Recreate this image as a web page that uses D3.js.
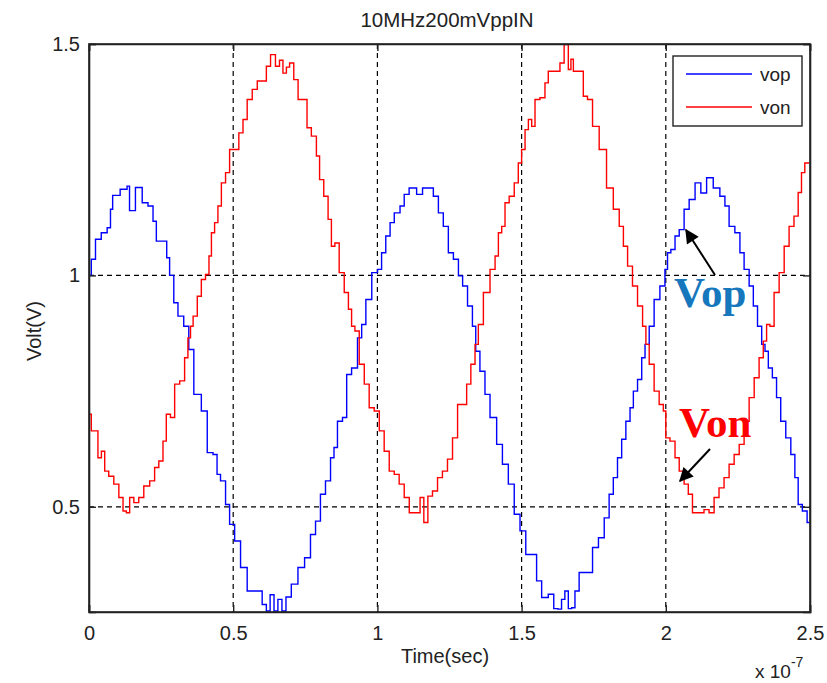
<!DOCTYPE html>
<html>
<head>
<meta charset="utf-8">
<script src="https://cdn.jsdelivr.net/npm/d3@7"></script>
<style>
  html, body { margin: 0; padding: 0; background: #fff; }
  svg { display: block; }
</style>
</head>
<body>
<svg id="chart" width="827" height="683"></svg>
<script>
// Time values are in units of 1e-7 s (axis shows "x 10^-7")
const vopTime = [0.002,0.014,0.031,0.054,0.072,0.077,0.087,0.129,0.135,0.146,0.176,0.193,0.216,0.228,0.239,0.265,0.274,0.285,0.303,0.314,0.343,0.349,0.378,0.401,0.419,0.441,0.447,0.465,0.482,0.493,0.517,0.534,0.563,0.592,0.609,0.621,0.635,0.648,0.662,0.676,0.690,0.713,0.736,0.759,0.777,0.794,0.811,0.829,0.846,0.853,0.870,0.888,0.899,0.922,0.940,0.951,0.969,0.992,1.009,1.020,1.038,1.050,1.067,1.090,1.096,1.124,1.148,1.165,1.182,1.206,1.217,1.240,1.252,1.275,1.287,1.304,1.321,1.338,1.344,1.367,1.379,1.402,1.425,1.442,1.466,1.483,1.506,1.523,1.546,1.558,1.581,1.604,1.619,1.633,1.644,1.656,1.668,1.679,1.691,1.708,1.737,1.755,1.778,1.795,1.812,1.824,1.841,1.853,1.870,1.882,1.893,1.911,1.922,1.934,1.951,1.968,1.991,2.003,2.009,2.026,2.038,2.055,2.072,2.090,2.113,2.130,2.153,2.176,2.199,2.211,2.228,2.251,2.263,2.280,2.298,2.309,2.327,2.338,2.350,2.361,2.378,2.390,2.407,2.425,2.442,2.453,2.465,2.482,2.498];
const vopValues = [1.000,1.035,1.078,1.092,1.103,1.143,1.173,1.186,1.193,1.140,1.190,1.157,1.150,1.117,1.074,1.074,1.038,1.000,0.941,0.912,0.890,0.840,0.743,0.707,0.617,0.613,0.570,0.556,0.505,0.462,0.426,0.369,0.318,0.318,0.289,0.275,0.310,0.275,0.300,0.275,0.305,0.333,0.369,0.390,0.440,0.469,0.527,0.556,0.606,0.628,0.685,0.693,0.786,0.800,0.865,0.894,0.948,1.006,1.013,1.049,1.085,1.114,1.135,1.150,1.175,1.189,1.175,1.189,1.189,1.171,1.135,1.106,1.049,1.035,0.999,0.977,0.934,0.890,0.836,0.793,0.743,0.693,0.635,0.592,0.549,0.484,0.448,0.397,0.397,0.340,0.304,0.311,0.280,0.279,0.300,0.318,0.280,0.282,0.318,0.358,0.358,0.412,0.433,0.476,0.527,0.563,0.606,0.646,0.685,0.714,0.750,0.775,0.822,0.851,0.890,0.948,0.977,1.013,1.049,1.056,1.085,1.099,1.143,1.164,1.200,1.178,1.211,1.189,1.171,1.150,1.106,1.092,1.049,1.013,0.977,0.934,0.890,0.851,0.836,0.800,0.779,0.736,0.685,0.649,0.613,0.563,0.505,0.491,0.466];

const vonTime = [0.002,0.014,0.025,0.037,0.049,0.060,0.077,0.095,0.112,0.124,0.135,0.147,0.164,0.181,0.199,0.222,0.233,0.251,0.262,0.274,0.291,0.303,0.326,0.337,0.349,0.355,0.367,0.384,0.395,0.413,0.419,0.430,0.441,0.453,0.465,0.482,0.493,0.511,0.528,0.540,0.557,0.575,0.592,0.609,0.621,0.638,0.655,0.666,0.679,0.690,0.701,0.719,0.731,0.753,0.759,0.783,0.794,0.805,0.823,0.835,0.846,0.859,0.876,0.894,0.905,0.916,0.928,0.946,0.963,0.980,0.998,1.015,1.032,1.050,1.067,1.084,1.102,1.119,1.142,1.154,1.168,1.182,1.200,1.217,1.234,1.252,1.269,1.287,1.304,1.315,1.333,1.344,1.356,1.379,1.402,1.414,1.425,1.437,1.448,1.466,1.483,1.494,1.506,1.518,1.529,1.541,1.552,1.575,1.587,1.598,1.627,1.639,1.656,1.668,1.674,1.685,1.708,1.720,1.737,1.755,1.783,1.806,1.830,1.847,1.859,1.876,1.893,1.911,1.928,1.934,1.951,1.968,1.986,1.997,2.003,2.026,2.038,2.055,2.072,2.084,2.101,2.124,2.141,2.159,2.176,2.193,2.211,2.228,2.246,2.263,2.280,2.298,2.315,2.332,2.344,2.355,2.367,2.384,2.402,2.419,2.436,2.453,2.465,2.476,2.488,2.497];
const vonValues = [0.700,0.664,0.664,0.606,0.620,0.577,0.566,0.549,0.520,0.491,0.487,0.520,0.509,0.520,0.545,0.556,0.585,0.599,0.642,0.700,0.693,0.765,0.772,0.822,0.865,0.890,0.912,0.955,0.991,1.002,1.042,1.092,1.114,1.150,1.200,1.222,1.272,1.272,1.308,1.337,1.380,1.402,1.420,1.420,1.452,1.477,1.452,1.465,1.437,1.450,1.459,1.423,1.380,1.380,1.319,1.301,1.258,1.207,1.171,1.121,1.063,1.070,1.006,0.963,0.927,0.890,0.880,0.808,0.765,0.714,0.707,0.664,0.620,0.577,0.570,0.549,0.520,0.487,0.487,0.520,0.466,0.523,0.534,0.563,0.577,0.603,0.649,0.721,0.721,0.765,0.808,0.851,0.894,0.963,1.013,1.042,1.092,1.106,1.157,1.171,1.200,1.243,1.272,1.315,1.337,1.322,1.380,1.384,1.416,1.441,1.441,1.459,1.499,1.445,1.467,1.441,1.441,1.387,1.380,1.322,1.272,1.189,1.143,1.106,1.063,1.020,0.977,0.934,0.890,0.851,0.808,0.750,0.721,0.707,0.649,0.642,0.606,0.577,0.549,0.527,0.487,0.487,0.494,0.487,0.520,0.541,0.563,0.592,0.613,0.635,0.685,0.736,0.779,0.822,0.858,0.894,0.890,0.963,1.006,1.063,1.106,1.128,1.179,1.222,1.243,1.243];

const xTicks = [0, 0.5, 1, 1.5, 2, 2.5];
const xTickLabels = ["0", "0.5", "1", "1.5", "2", "2.5"];
const yTicks = [0.5, 1, 1.5];
const yTickLabels = ["0.5", "1", "1.5"];
const seriesNames = ["vop", "von"];
const seriesColors = ["#0000ff", "#ff0000"];
const titleText = "10MHz200mVppIN";
const xLabel = "Time(sec)";
const yLabel = "Volt(V)";

const svg = d3.select("#chart");
const W = 827, H = 683;
const m = {left: 89, right: 810, top: 44, bottom: 612};
const font = "'Liberation Sans', Arial, Helvetica, sans-serif";

const x = d3.scaleLinear().domain([0, 2.5]).range([m.left, m.right]);
const y = d3.scaleLinear().domain([0.2727, 1.5]).range([m.bottom, m.top]);

svg.append("rect").attr("width", W).attr("height", H).attr("fill", "#fff");

const defs = svg.append("defs");
defs.append("clipPath").attr("id", "plotclip")
  .append("rect").attr("x", m.left).attr("y", m.top)
  .attr("width", m.right - m.left).attr("height", m.bottom - m.top);

// grid
const grid = svg.append("g");
xTicks.filter(t => t > 0 && t < 2.5).forEach(t => {
  grid.append("line").attr("x1", x(t)).attr("x2", x(t)).attr("y1", m.top).attr("y2", m.bottom)
    .attr("stroke", "#000").attr("stroke-width", 1.2).attr("stroke-dasharray", "5,4");
});
yTicks.filter(t => t < 1.5).forEach(t => {
  grid.append("line").attr("x1", m.left).attr("x2", m.right).attr("y1", y(t)).attr("y2", y(t))
    .attr("stroke", "#000").attr("stroke-width", 1.2).attr("stroke-dasharray", "5,4");
});

// data lines
const series = [
  {name: seriesNames[0], color: seriesColors[0], pts: vopTime.map((t, i) => [t, vopValues[i]])},
  {name: seriesNames[1], color: seriesColors[1], pts: vonTime.map((t, i) => [t, vonValues[i]])}
];
const line = d3.line().x(d => x(d[0])).y(d => y(d[1])).curve(d3.curveStep);
const lines = svg.append("g").attr("clip-path", "url(#plotclip)");
series.forEach(s => {
  lines.append("path").attr("d", line(s.pts)).attr("fill", "none")
    .attr("stroke", s.color).attr("stroke-width", 1.4);
});

// axes (ticks inward)
const axB = svg.append("g").attr("transform", `translate(0,${m.bottom})`)
  .call(d3.axisBottom(x).tickValues(xTicks).tickFormat((d, i) => xTickLabels[i]).tickSize(-7).tickPadding(14));
const axT = svg.append("g").attr("transform", `translate(0,${m.top})`)
  .call(d3.axisTop(x).tickValues(xTicks).tickFormat("").tickSize(-7));
const axL = svg.append("g").attr("transform", `translate(${m.left},0)`)
  .call(d3.axisLeft(y).tickValues(yTicks).tickFormat((d, i) => yTickLabels[i]).tickSize(-7).tickPadding(9));
const axR = svg.append("g").attr("transform", `translate(${m.right},0)`)
  .call(d3.axisRight(y).tickValues(yTicks).tickFormat("").tickSize(-7));
[axB, axT, axL, axR].forEach(a => {
  a.select(".domain").attr("stroke", "#222").attr("stroke-width", 1.6);
  a.selectAll(".tick line").attr("stroke", "#222").attr("stroke-width", 1.4);
  a.selectAll("text").attr("font-family", font).attr("font-size", 20).attr("fill", "#222");
});
svg.append("rect").attr("x", m.left).attr("y", m.top)
  .attr("width", m.right - m.left).attr("height", m.bottom - m.top)
  .attr("fill", "none").attr("stroke", "#222").attr("stroke-width", 1.6);

// title & labels
svg.append("text").attr("x", 447).attr("y", 27).attr("text-anchor", "middle")
  .attr("font-family", font).attr("font-size", 20.5).attr("fill", "#222").text(titleText);
svg.append("text").attr("x", 445).attr("y", 663).attr("text-anchor", "middle")
  .attr("font-family", font).attr("font-size", 20).attr("fill", "#222").text(xLabel);
svg.append("text").attr("transform", "translate(41,331) rotate(-90)").attr("text-anchor", "middle")
  .attr("font-family", font).attr("font-size", 20).attr("fill", "#222").text(yLabel);
const expo = svg.append("text").attr("x", 755).attr("y", 678)
  .attr("font-family", font).attr("font-size", 19).attr("fill", "#222");
expo.append("tspan").text("x 10");
expo.append("tspan").attr("dy", -11).attr("font-size", 14).text("-7");

// legend
const lg = svg.append("g");
lg.append("rect").attr("x", 673).attr("y", 56).attr("width", 129).attr("height", 70)
  .attr("fill", "#fff").attr("stroke", "#222").attr("stroke-width", 1.4);
series.forEach((s, i) => {
  const ly = 74 + i * 33;
  lg.append("line").attr("x1", 686).attr("x2", 752).attr("y1", ly).attr("y2", ly)
    .attr("stroke", s.color).attr("stroke-width", 1.4);
  lg.append("text").attr("x", 760).attr("y", ly + 7).attr("font-family", font)
    .attr("font-size", 19).attr("fill", "#222").text(s.name);
});

// annotations
defs.append("marker").attr("id", "arrow").attr("viewBox", "0 0 10 10")
  .attr("refX", 9).attr("refY", 5)
  .attr("orient", "auto").attr("markerUnits", "userSpaceOnUse")
  .attr("markerWidth", 16).attr("markerHeight", 14)
  .append("path").attr("d", "M0,0 L10,5 L0,10 Z").attr("fill", "#000");

svg.append("line").attr("x1", 715).attr("y1", 275).attr("x2", 686).attr("y2", 230)
  .attr("stroke", "#000").attr("stroke-width", 2).attr("marker-end", "url(#arrow)");
svg.append("line").attr("x1", 710).attr("y1", 449).attr("x2", 680).attr("y2", 481)
  .attr("stroke", "#000").attr("stroke-width", 2).attr("marker-end", "url(#arrow)");

svg.append("text").attr("x", 674).attr("y", 307)
  .attr("font-family", "'Liberation Serif', 'Times New Roman', serif").attr("font-weight", "bold")
  .attr("font-size", 43).attr("fill", "#1677bd").text("Vop");
svg.append("text").attr("x", 679).attr("y", 437)
  .attr("font-family", "'Liberation Serif', 'Times New Roman', serif").attr("font-weight", "bold")
  .attr("font-size", 43).attr("fill", "#ff0000").text("Von");
</script>
</body>
</html>
